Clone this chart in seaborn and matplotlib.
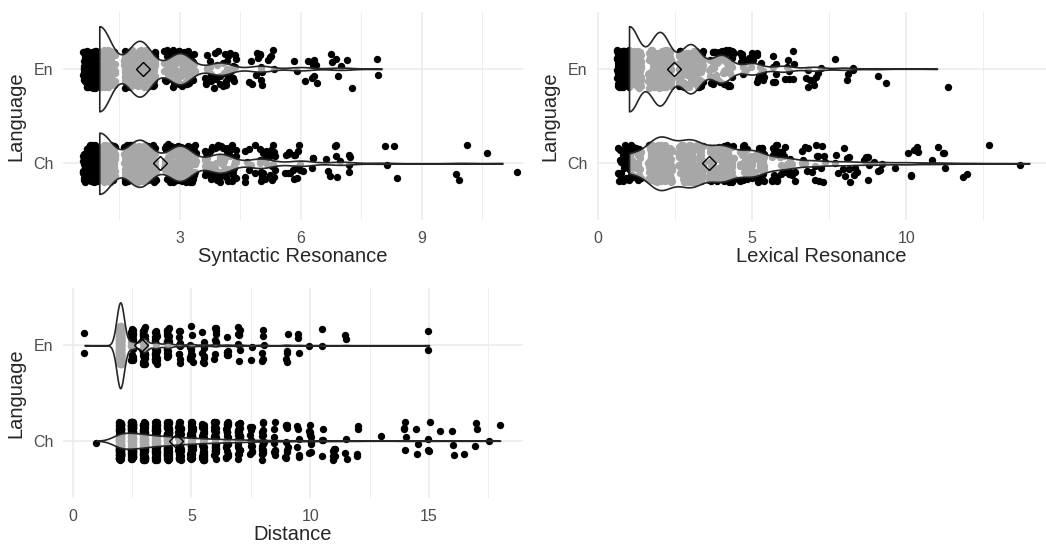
import numpy as np
import pandas as pd
import matplotlib
matplotlib.use("Agg")
import matplotlib.pyplot as plt
from matplotlib.ticker import FixedLocator
import seaborn as sns

langs = ["En", "Ch"]

# Syntactic resonance: observed values and how many times each occurs
syn_en_vals = [1, 2, 3, 4, 5, 6, 7, 8]
syn_en_counts = [260, 170, 95, 38, 18, 10, 7, 2]
syn_ch_vals = [1, 2, 3, 4, 5, 6, 7, 8, 10, 11]
syn_ch_counts = [235, 180, 135, 72, 36, 20, 12, 4, 3, 2]

# Lexical resonance
lex_en_vals = [1, 2, 3, 4, 5, 6, 7, 8, 9, 11]
lex_en_counts = [200, 172, 115, 65, 27, 14, 9, 5, 2, 1]
lex_ch_vals = [1, 2, 3, 4, 5, 6, 7, 8, 9, 10, 11, 12, 13, 14]
lex_ch_counts = [62, 181, 156, 119, 87, 38, 19, 13, 9, 7, 5, 2, 1, 1]

# Distance
dist_en_vals = [0.5, 2, 2.5, 3, 3.5, 4, 4.5, 5, 5.5, 6, 6.5, 7, 7.5, 8, 9, 9.5, 10, 10.5, 11.5, 15]
dist_en_counts = [2, 376, 30, 60, 26, 24, 10, 12, 8, 9, 6, 8, 2, 6, 5, 3, 1, 2, 2, 2]
dist_ch_vals = [1, 2, 2.5, 3, 3.5, 4, 4.5, 5, 5.5, 6, 6.5, 7, 7.5, 8, 8.5, 9, 9.5, 10, 10.5,
                11, 11.5, 12, 13, 14, 14.5, 15, 15.5, 16, 16.5, 17, 17.5, 18]
dist_ch_counts = [1, 170, 140, 130, 90, 90, 60, 60, 40, 40, 25, 30, 12, 18, 8, 10, 6, 10, 4,
                  8, 3, 4, 1, 5, 3, 4, 1, 3, 1, 3, 1, 1]


def expand(en_vals, en_counts, ch_vals, ch_counts):
    en = pd.DataFrame({"value": np.repeat(np.array(en_vals, float), en_counts), "Language": "En"})
    ch = pd.DataFrame({"value": np.repeat(np.array(ch_vals, float), ch_counts), "Language": "Ch"})
    return pd.concat([en, ch], ignore_index=True)


def nrd0(x):
    # rule of thumb bandwidth as in R's density(), a bit tighter
    hi = x.std(ddof=1)
    q75, q25 = np.percentile(x, [75, 25])
    lo = min(hi, (q75 - q25) / 1.34)
    if lo == 0:
        lo = hi or abs(x[0]) or 1.0
    return 0.85 * 0.9 * lo * len(x) ** -0.2


def kde_peak(x, bw):
    grid = np.linspace(x.min(), x.max(), 512)
    d = np.exp(-0.5 * ((grid[:, None] - x[None, :]) / bw) ** 2).sum(axis=1)
    return d.max() / (len(x) * bw * np.sqrt(2 * np.pi))


def panel(ax, df, xlabel, xlim, ticks, minor, xjit, seed):
    # horizontal jitter like geom_jitter, only for the dots
    rng = np.random.default_rng(seed)
    pts = df.copy()
    pts["value"] = pts["value"] + rng.uniform(-xjit, xjit, len(pts))
    sns.stripplot(data=pts, x="value", y="Language", order=langs, jitter=0.2,
                  size=5.3, color="black", linewidth=0, zorder=2, ax=ax)

    bws, peaks = {}, {}
    for lang in langs:
        x = df.loc[df["Language"] == lang, "value"].to_numpy()
        bws[lang] = nrd0(x)
        peaks[lang] = kde_peak(x, bws[lang])
    top = max(peaks.values())

    for lang in langs:
        sub = df[df["Language"] == lang]
        n0 = len(ax.collections)
        sns.violinplot(data=sub, x="value", y="Language", order=langs, cut=0, inner=None,
                       width=0.9 * peaks[lang] / top,
                       bw_method=bws[lang] / sub["value"].std(), gridsize=512,
                       color="white", linecolor="#262626", linewidth=1.2, ax=ax)
        for c in ax.collections[n0:]:
            c.set_facecolor((1, 1, 1, 0.66))
            c.set_zorder(3)

    n0 = len(ax.lines)
    sns.pointplot(data=df, x="value", y="Language", order=langs, estimator="mean",
                  errorbar=None, color="black", marker="D", markersize=7.4,
                  markeredgewidth=1.0, linestyle="none", ax=ax)
    for ln in ax.lines[n0:]:
        ln.set_markerfacecolor("none")
        ln.set_zorder(4)

    ax.set_xlim(*xlim)
    ax.set_ylim(1.6, -0.6)
    ax.xaxis.set_major_locator(FixedLocator(ticks))
    ax.xaxis.set_minor_locator(FixedLocator(minor))
    ax.set_axisbelow(True)
    ax.grid(True, which="major", color="#EBEBEB", linewidth=1.1)
    ax.grid(True, which="minor", axis="x", color="#EBEBEB", linewidth=0.6)
    for s in ax.spines.values():
        s.set_visible(False)
    ax.tick_params(axis="both", which="both", length=0, labelsize=11.5, labelcolor="#4D4D4D")
    ax.tick_params(axis="x", pad=8)
    ax.tick_params(axis="y", pad=7)
    ax.set_xlabel(xlabel, fontsize=14.5, labelpad=1)
    ax.set_ylabel("Language", fontsize=14.5, labelpad=5.5)


sns.set_theme(style="whitegrid")
plt.rcParams["font.family"] = ["Liberation Sans", "DejaVu Sans"]

fig = plt.figure(figsize=(10.46, 5.46), dpi=100)
ax1 = fig.add_axes([63 / 1046, 326 / 546, 460 / 1046, 208 / 546])
ax2 = fig.add_axes([597 / 1046, 326 / 546, 449 / 1046, 208 / 546])
ax3 = fig.add_axes([63 / 1046, 48 / 546, 460 / 1046, 210 / 546])

syn = expand(syn_en_vals, syn_en_counts, syn_ch_vals, syn_ch_counts)
lex = expand(lex_en_vals, lex_en_counts, lex_ch_vals, lex_ch_counts)
dist = expand(dist_en_vals, dist_en_counts, dist_ch_vals, dist_ch_counts)

panel(ax1, syn, "Syntactic Resonance", (0.1, 11.51), [3, 6, 9], [1.5, 4.5, 7.5, 10.5], 0.4, 1)
panel(ax2, lex, "Lexical Resonance", (-0.04, 14.54), [0, 5, 10], [2.5, 7.5, 12.5], 0.4, 2)
panel(ax3, dist, "Distance", (-0.41, 18.96), [0, 5, 10, 15], [2.5, 7.5, 12.5, 17.5], 0.05, 3)

fig.savefig("out.png", dpi=100)
